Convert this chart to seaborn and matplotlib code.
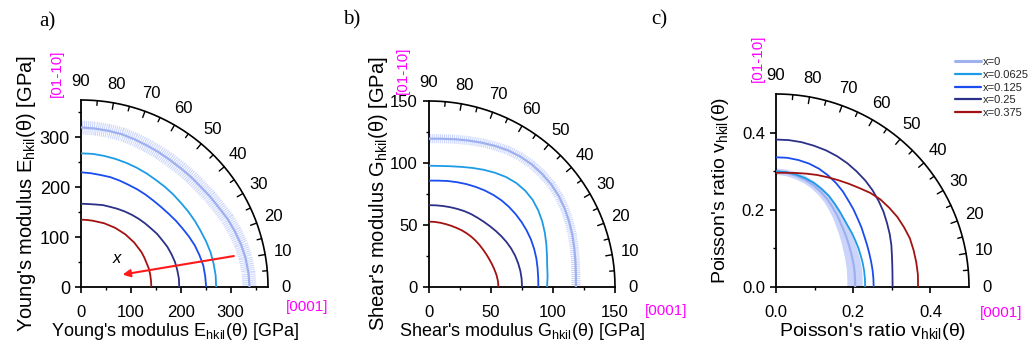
import numpy as np
import pandas as pd
import matplotlib
matplotlib.use("Agg")
import matplotlib.pyplot as plt
from matplotlib.lines import Line2D
import seaborn as sns

# ---------------- data ----------------
angles_deg = [0, 5, 10, 15, 20, 25, 30, 35, 40, 45, 50, 55, 60, 65, 70, 75, 80, 85, 90]
series_labels = ["x=0", "x=0.0625", "x=0.125", "x=0.25", "x=0.375"]

# Young's modulus E(theta) [GPa]
E_x0 = [338, 337, 335, 332, 328, 324, 319, 316, 313, 312, 311, 311, 312, 313, 315, 317, 318, 319, 320]
E_x00625 = [271, 271, 270, 269, 267, 265, 264, 263, 262, 262, 262, 262, 263, 264, 265, 266, 267, 268, 268]
E_x0125 = [251, 250, 249, 246, 243, 239, 235, 232, 229, 227, 226, 226, 226, 226, 227, 228, 228, 229, 230]
E_x025 = [197, 197, 196, 195, 193, 191, 188, 186, 183, 181, 179, 177, 175, 173, 171, 170, 168, 167, 167]
E_x0375 = [141, 141, 141, 141, 140, 140, 140, 139, 139, 138, 138, 137, 137, 136, 136, 135, 135, 135, 135]

# Shear modulus G(theta) [GPa]
G_x0 = [118.5, 118.9, 119.9, 121.3, 123.0, 124.7, 126.4, 127.8, 128.7, 129.0, 129.0, 128.4, 127.3, 125.6,
        123.9, 122.3, 121.0, 120.0, 119.6]
G_x00625 = [95.2, 96.0, 96.8, 98.5, 100.7, 103.1, 105.5, 107.6, 109.2, 109.8, 109.5, 108.3, 106.4, 104.3,
            102.2, 100.3, 98.9, 98.0, 97.8]
G_x0125 = [88.2, 88.4, 88.9, 89.6, 90.2, 90.7, 91.0, 91.2, 91.3, 91.3, 91.1, 90.6, 89.9, 89.1, 88.3, 87.5,
           86.8, 86.1, 85.8]
G_x025 = [75.0, 75.0, 74.8, 74.4, 73.9, 73.2, 72.3, 71.3, 70.3, 69.4, 68.7, 68.2, 67.9, 67.5, 67.0, 66.6,
          66.3, 66.1, 66.0]
G_x0375 = [56.0, 55.8, 55.3, 54.6, 54.0, 53.5, 53.2, 53.0, 53.0, 53.0, 53.0, 52.9, 52.8, 52.6, 52.5, 52.5,
           52.6, 52.7, 52.7]

# Poisson's ratio nu(theta)
P_x0 = [0.205, 0.2055, 0.207, 0.209, 0.211, 0.214, 0.218, 0.223, 0.229, 0.236, 0.245, 0.254, 0.264, 0.273,
        0.281, 0.288, 0.293, 0.297, 0.299]
P_x00625 = [0.231, 0.2313, 0.232, 0.233, 0.234, 0.236, 0.238, 0.241, 0.244, 0.249, 0.256, 0.264, 0.273,
            0.280, 0.287, 0.292, 0.296, 0.299, 0.300]
P_x0125 = [0.253, 0.2533, 0.254, 0.255, 0.257, 0.260, 0.264, 0.270, 0.276, 0.284, 0.292, 0.302, 0.311,
           0.319, 0.326, 0.331, 0.334, 0.336, 0.336]
P_x025 = [0.302, 0.303, 0.306, 0.311, 0.318, 0.325, 0.332, 0.340, 0.347, 0.354, 0.360, 0.365, 0.370, 0.374,
          0.377, 0.379, 0.381, 0.382, 0.382]
P_x0375 = [0.368, 0.369, 0.369, 0.369, 0.369, 0.366, 0.363, 0.358, 0.353, 0.345, 0.335, 0.327, 0.320, 0.314,
           0.309, 0.304, 0.300, 0.297, 0.296]
P_x0_err = [0.020, 0.020, 0.020, 0.0195, 0.019, 0.0185, 0.018, 0.017, 0.016, 0.015, 0.014, 0.013, 0.012,
            0.011, 0.010, 0.0095, 0.009, 0.0085, 0.008]

angle_tick_values = [0, 10, 20, 30, 40, 50, 60, 70, 80, 90]
angle_tick_labels = ["0", "10", "20", "30", "40", "50", "60", "70", "80", "90"]

# ---------------- style ----------------
sns.set_theme(style="ticks")
plt.rcParams["font.family"] = ["Liberation Sans", "DejaVu Sans"]
plt.rcParams["mathtext.fontset"] = "custom"
plt.rcParams["mathtext.rm"] = "Liberation Sans"
plt.rcParams["mathtext.it"] = "Liberation Sans:italic"
plt.rcParams["lines.scale_dashes"] = False

colors = ["#9fb0ef", "#1e9be6", "#1a4cf0", "#2c3088", "#a31212"]
band_color = "#cbd5fb"
fs = 12

fig = plt.figure(figsize=(10.3, 3.53), dpi=100)
W, H = 1030.0, 353.0


def make_ax(left_px, bottom_px, size_px):
    return fig.add_axes([left_px / W, (H - bottom_px) / H, size_px / W, size_px / H])


def polar_df(r):
    th = np.deg2rad(np.array(angles_deg, dtype=float))
    r = np.array(r, dtype=float)
    return pd.DataFrame({"x": r * np.cos(th), "y": r * np.sin(th)})


def panel(ax, R, major, minor, curves, err, band_style, xlabel, ylabel, fmt,
          ytick_fs, xlabel_fs, ylabel_fs, ylabelpad):
    ax.set_xlim(0, R)
    ax.set_ylim(0, R)
    ax.set_aspect("equal")
    ax.set_facecolor("none")
    for s in ["top", "right"]:
        ax.spines[s].set_visible(False)
    for s in ["left", "bottom"]:
        ax.spines[s].set_linewidth(1.3)
        ax.spines[s].set_color("black")
    # error band of x=0
    if band_style == "hatch":
        df = polar_df(curves[0])
        sns.lineplot(data=df, x="x", y="y", sort=False, estimator=None, ax=ax,
                     color=band_color, linewidth=err, linestyle=(0, (0.75, 0.7)),
                     zorder=1)
    else:
        th = np.deg2rad(np.array(angles_deg, dtype=float))
        r0 = np.array(curves[0]); e = np.array(err)
        xo, yo = (r0 + e) * np.cos(th), (r0 + e) * np.sin(th)
        xi, yi = (r0 - e) * np.cos(th), (r0 - e) * np.sin(th)
        ax.fill(np.r_[xo, xi[::-1]], np.r_[yo, yi[::-1]], color=band_color,
                lw=0, zorder=1)
    for i, (r, c) in enumerate(zip(curves, colors)):
        df = polar_df(r)
        sns.lineplot(data=df, x="x", y="y", sort=False, estimator=None, ax=ax,
                     color=c, linewidth=1.6 if i == 0 else 1.3, zorder=3)
    # angular arc
    t = np.linspace(0, np.pi / 2, 300)
    ax.plot(R * np.cos(t), R * np.sin(t), color="black", lw=1.2, clip_on=False, zorder=4)
    for deg in range(5, 90, 5):
        a = np.deg2rad(deg)
        L = 0.035 * R if deg % 10 == 0 else 0.025 * R
        ax.plot([R * np.cos(a), (R - L) * np.cos(a)], [R * np.sin(a), (R - L) * np.sin(a)],
                color="black", lw=1.0, clip_on=False, zorder=4)
    for lab, deg in zip(angle_tick_labels, angle_tick_values):
        a = np.deg2rad(deg)
        ax.annotate(lab, xy=(R * np.cos(a), R * np.sin(a)),
                    xytext=(13 * np.cos(a), 13.5 * np.sin(a)), textcoords="offset points",
                    ha="center", va="center", fontsize=fs, color="black",
                    annotation_clip=False)
    ax.set_xticks(major)
    ax.set_yticks(major)
    ax.set_xticks(minor, minor=True)
    ax.set_yticks(minor, minor=True)
    ax.set_xticklabels([fmt(v) for v in major])
    ax.set_yticklabels([fmt(v) for v in major])
    ax.tick_params(which="major", direction="out", length=4, width=1.2,
                   color="black", labelcolor="black")
    ax.tick_params(axis="x", which="major", pad=9, labelsize=fs)
    ax.tick_params(axis="y", which="major", pad=4, labelsize=ytick_fs)
    ax.tick_params(which="minor", direction="out", length=2.5, width=1.0, color="black")
    ax.set_xlabel(xlabel, fontsize=xlabel_fs, labelpad=1, color="black")
    ax.set_ylabel(ylabel, fontsize=ylabel_fs, labelpad=ylabelpad, color="black")


ax_a = make_ax(81, 287, 187)
panel(ax_a, 375, [0, 100, 200, 300], [50, 150, 250, 350],
      [E_x0, E_x00625, E_x0125, E_x025, E_x0375], 10.0, "hatch",
      r"Young's modulus E$_{\mathrm{hkil}}$(θ) [GPa]",
      r"Young's modulus E$_{\mathrm{hkil}}$(θ) [GPa]", lambda v: f"{v:d}",
      13, 13, 14.5, 1)
ax_a.annotate("", xy=(78, 24), xytext=(312, 63),
              arrowprops=dict(arrowstyle="-|>", color="#ff1a1a", lw=1.5, mutation_scale=11),
              zorder=6)
ax_a.text(72, 58, "x", style="italic", fontsize=fs, ha="center", va="center", color="black")

ax_b = make_ax(429, 287, 186)
panel(ax_b, 150, [0, 50, 100, 150], [25, 75, 125],
      [G_x0, G_x00625, G_x0125, G_x025, G_x0375], 6.5, "hatch",
      r"Shear's modulus G$_{\mathrm{hkil}}$(θ) [GPa]",
      r"Shear's modulus G$_{\mathrm{hkil}}$(θ) [GPa]", lambda v: f"{v:d}",
      12, 13, 14.5, 0)

ax_c = make_ax(776, 287, 193)
panel(ax_c, 0.5, [0.0, 0.2, 0.4], [0.1, 0.3],
      [P_x0, P_x00625, P_x0125, P_x025, P_x0375], P_x0_err, "fill",
      r"Poisson's ratio v$_{\mathrm{hkil}}$(θ)",
      r"Poisson's ratio v$_{\mathrm{hkil}}$(θ)", lambda v: f"{v:.1f}",
      12, 14, 14, 8)

# magenta direction labels
for xpx, ypx in [(57, 73), (403, 70), (758, 58)]:
    fig.text(xpx / W, 1 - ypx / H, "[01-10]", rotation=90, color="#ff00ff",
             fontsize=11, ha="center", va="center")
for xpx, ypx in [(307, 307), (666, 311), (1001, 313)]:
    fig.text(xpx / W, 1 - ypx / H, "[0001]", color="#ff00ff",
             fontsize=11, ha="center", va="center")

# panel letters
for xpx, ypx, lab in [(47, 22, "a)"), (352, 20, "b)"), (659, 20, "c)")]:
    fig.text(xpx / W, 1 - ypx / H, lab, fontsize=15, family="Liberation Serif",
             ha="center", va="center", color="black")

# legend
handles = [Line2D([0], [0], color=c, lw=2.2 if i == 0 else 1.6) for i, c in enumerate(colors)]
fig.legend(handles, series_labels, loc="upper left", bbox_to_anchor=(955 / W, 1 - 57 / H),
           frameon=False, fontsize=8, handlelength=2.3, handletextpad=0.2,
           labelspacing=0.25, borderaxespad=0, borderpad=0)

fig.savefig("out.png", dpi=100)
